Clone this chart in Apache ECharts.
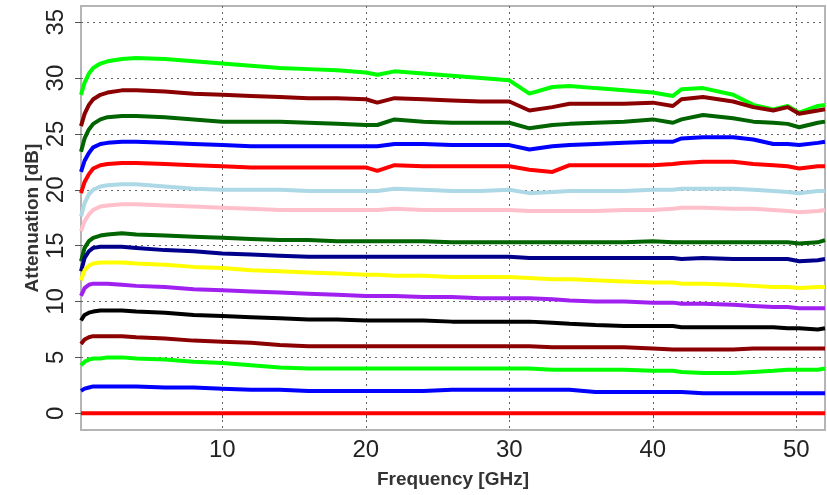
<!DOCTYPE html>
<html>
<head>
<meta charset="utf-8">
<script src="https://cdn.jsdelivr.net/npm/echarts@6/dist/echarts.min.js"></script>
<style>
html,body{margin:0;padding:0;background:#fff;}
#chart{width:827px;height:495px;}
</style>
</head>
<body>
<div id="chart"></div>
<script>
// Frequency sample points (GHz)
const freq = [0.15, 0.4, 0.7, 1, 1.5, 2, 3, 4, 6, 8, 10, 12, 14, 16, 18, 20, 20.8, 22, 24, 26, 28, 30, 31.4, 33, 34.2, 36, 38, 40, 41.4, 42, 43.5, 45.6, 47, 48.4, 49.4, 50.2, 51.5, 52];

// Attenuation curves (dB), top to bottom
const sLime1   = [28.5,29.6,30.4,30.9,31.3,31.5,31.7,31.8,31.7,31.5,31.3,31.1,30.9,30.8,30.7,30.5,30.3,30.6,30.4,30.2,30.0,29.8,28.6,29.2,29.3,29.1,28.9,28.7,28.4,29.0,29.1,28.5,27.6,27.2,27.5,26.9,27.5,27.6];
const sMaroon1 = [25.7,26.8,27.6,28.1,28.5,28.7,28.9,28.9,28.8,28.6,28.5,28.4,28.3,28.2,28.2,28.1,27.8,28.2,28.1,28.0,27.9,27.9,27.1,27.4,27.7,27.7,27.7,27.8,27.5,28.1,28.3,27.9,27.4,27.1,27.4,26.8,27.1,27.2];
const sGreen1  = [23.4,24.6,25.4,25.9,26.3,26.5,26.6,26.6,26.5,26.3,26.1,26.1,26.1,26.0,25.9,25.8,25.8,26.3,26.1,26.0,26.0,26.0,25.5,25.8,25.9,26.0,26.1,26.3,26.0,26.3,26.7,26.4,26.1,26.0,25.9,25.6,26.0,26.1];
const sBlue1   = [21.6,22.6,23.3,23.8,24.1,24.2,24.3,24.3,24.2,24.1,24.0,23.9,23.9,23.9,23.9,23.9,23.9,24.1,24.1,24.0,24.0,24.0,23.6,23.9,24.0,24.1,24.2,24.3,24.3,24.6,24.7,24.7,24.5,24.1,24.1,24.0,24.2,24.3];
const sRed1    = [19.7,20.7,21.4,21.9,22.2,22.3,22.4,22.4,22.3,22.2,22.1,22.0,22.0,22.0,22.0,22.0,21.7,22.2,22.1,22.1,22.1,22.1,21.8,21.6,22.2,22.2,22.2,22.2,22.3,22.4,22.5,22.5,22.3,22.2,22.1,21.9,22.1,22.1];
const sLtBlue  = [17.6,18.8,19.6,20.0,20.3,20.4,20.5,20.5,20.3,20.1,20.0,20.0,20.0,19.9,19.9,19.9,19.9,20.1,20.0,19.9,19.9,20.0,19.7,19.8,19.9,19.9,19.9,20.0,20.0,20.1,20.1,20.1,20.0,19.9,19.8,19.7,19.9,19.9];
const sPink    = [16.3,17.2,17.8,18.2,18.5,18.6,18.7,18.7,18.6,18.5,18.4,18.3,18.2,18.2,18.2,18.2,18.2,18.3,18.2,18.2,18.2,18.2,18.1,18.1,18.1,18.1,18.2,18.2,18.3,18.4,18.4,18.3,18.3,18.2,18.1,18.0,18.1,18.2];
const sGreen2  = [13.6,14.8,15.4,15.7,15.9,16.0,16.1,16.0,15.9,15.8,15.7,15.6,15.5,15.5,15.4,15.4,15.4,15.4,15.4,15.3,15.3,15.3,15.3,15.3,15.3,15.3,15.3,15.4,15.3,15.3,15.3,15.3,15.3,15.3,15.3,15.2,15.3,15.5];
const sNavy    = [12.7,13.9,14.5,14.8,14.9,14.9,14.9,14.8,14.6,14.5,14.3,14.2,14.1,14.0,14.0,14.0,14.0,14.0,14.0,14.0,14.0,14.0,13.9,13.9,13.9,13.9,13.9,13.9,13.9,13.8,13.9,13.8,13.8,13.8,13.8,13.6,13.7,13.8];
const sYellow  = [11.9,12.8,13.2,13.4,13.5,13.5,13.5,13.4,13.3,13.1,13.0,12.8,12.7,12.6,12.5,12.4,12.4,12.3,12.3,12.2,12.2,12.2,12.1,12.0,12.0,11.9,11.8,11.7,11.7,11.6,11.6,11.5,11.4,11.3,11.3,11.2,11.3,11.3];
const sPurple  = [10.5,11.2,11.5,11.6,11.6,11.6,11.5,11.4,11.3,11.1,11.0,10.9,10.8,10.7,10.6,10.5,10.5,10.5,10.4,10.4,10.3,10.3,10.3,10.2,10.1,10.0,10.0,9.9,9.9,9.8,9.8,9.7,9.6,9.5,9.5,9.4,9.4,9.4];
const sBlack   = [8.3,8.8,9.0,9.1,9.2,9.2,9.2,9.1,9.0,8.8,8.7,8.6,8.5,8.4,8.4,8.3,8.3,8.3,8.3,8.2,8.2,8.2,8.2,8.1,8.0,7.9,7.8,7.8,7.8,7.7,7.7,7.7,7.7,7.7,7.6,7.6,7.5,7.6];
const sMaroon2 = [6.2,6.6,6.8,6.9,6.9,6.9,6.9,6.8,6.7,6.5,6.4,6.3,6.1,6.0,6.0,6.0,6.0,6.0,6.0,6.0,6.0,6.0,6.0,5.9,5.9,5.9,5.9,5.8,5.7,5.7,5.7,5.7,5.8,5.8,5.8,5.8,5.8,5.8];
const sLime2   = [4.3,4.6,4.8,4.9,4.9,5.0,5.0,4.9,4.8,4.6,4.5,4.3,4.1,4.0,4.0,4.0,4.0,4.0,4.0,4.0,4.0,4.0,4.0,3.9,3.9,3.9,3.9,3.8,3.8,3.7,3.6,3.6,3.7,3.8,3.9,3.9,3.9,4.0];
const sBlue2   = [2.0,2.2,2.3,2.4,2.4,2.4,2.4,2.4,2.3,2.3,2.2,2.1,2.1,2.0,2.0,2.0,2.0,2.0,2.0,2.1,2.1,2.1,2.1,2.1,2.1,1.9,1.9,1.9,1.9,1.9,1.8,1.8,1.8,1.8,1.8,1.8,1.8,1.8];
const sRed2    = [0,0,0,0,0,0,0,0,0,0,0,0,0,0,0,0,0,0,0,0,0,0,0,0,0,0,0,0,0,0,0,0,0,0,0,0,0,0];

// Tick labels
const xTicks = [10, 20, 30, 40, 50];
const yTicks = [0, 5, 10, 15, 20, 25, 30, 35];

const curves = [
  [sLime1, '#00FF00'], [sMaroon1, '#8B0000'], [sGreen1, '#006400'], [sBlue1, '#0000FF'],
  [sRed1, '#FF0000'], [sLtBlue, '#ADD8E6'], [sPink, '#FFC0CB'], [sGreen2, '#006400'],
  [sNavy, '#00008B'], [sYellow, '#FFFF00'], [sPurple, '#A020F0'], [sBlack, '#000000'],
  [sMaroon2, '#8B0000'], [sLime2, '#00FF00'], [sBlue2, '#0000FF'], [sRed2, '#FF0000']
];

const FONT = '"Liberation Sans", Arial, sans-serif';
const gridLine = { show: true, lineStyle: { color: '#666', width: 1, type: [2, 4] } };

const chart = echarts.init(document.getElementById('chart'), null, { renderer: 'canvas' });
chart.setOption({
  animation: false,
  backgroundColor: '#fff',
  grid: { left: 81, right: 2, top: 6, bottom: 65, show: true, borderColor: '#b5b5b5', borderWidth: 2, backgroundColor: 'transparent' },
  xAxis: {
    type: 'value', min: 0.15, max: 52, splitNumber: 5,
    name: 'Frequency [GHz]', nameLocation: 'middle', nameGap: 40, nameMoveOverlap: false,
    nameTextStyle: { fontFamily: FONT, fontSize: 19, fontWeight: 'bold', color: '#333' },
    axisLine: { show: false },
    axisTick: { show: true, length: 5, customValues: xTicks, lineStyle: { color: '#555' } },
    axisLabel: { customValues: xTicks, fontFamily: FONT, fontSize: 24, color: '#222', margin: 8 },
    splitLine: gridLine
  },
  yAxis: {
    type: 'value', min: -1.5, max: 36.45, splitNumber: 8,
    name: 'Attenuation [dB]', nameLocation: 'middle', nameGap: 39, nameMoveOverlap: false,
    nameTextStyle: { fontFamily: FONT, fontSize: 19, fontWeight: 'bold', color: '#333' },
    axisLine: { show: false },
    axisTick: { show: true, length: 6, customValues: yTicks, lineStyle: { color: '#555' } },
    axisLabel: { customValues: yTicks, rotate: 90, fontFamily: FONT, fontSize: 24, color: '#222', margin: 13 },
    splitLine: gridLine
  },
  series: curves.map(([vals, color]) => ({
    type: 'line',
    data: freq.map((f, i) => [f, vals[i]]),
    showSymbol: false,
    clip: true,
    lineStyle: { color: color, width: 4 },
    itemStyle: { color: color }
  }))
});
</script>
</body>
</html>
